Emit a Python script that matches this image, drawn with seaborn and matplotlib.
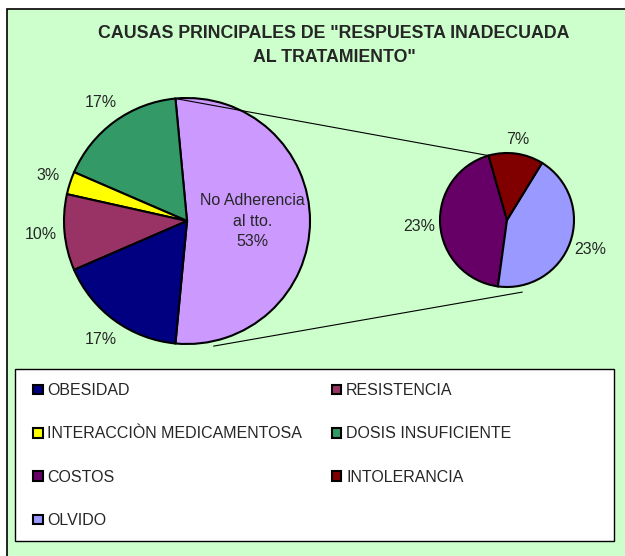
import numpy as np
import seaborn as sns
import matplotlib.pyplot as plt
from matplotlib.patches import Rectangle, ConnectionPatch

# data (shares of the whole, %)
main_labels = ["No Adherencia", "DOSIS INSUFICIENTE", "INTERACCIÒN MEDICAMENTOSA",
               "RESISTENCIA", "OBESIDAD"]
main_values = [53, 17, 3, 10, 17]
main_colors = ["#CC99FF", "#339966", "#FFFF00", "#993366", "#000080"]

# breakdown of "No Adherencia"
sub_labels = ["COSTOS", "OLVIDO", "INTOLERANCIA"]
sub_values = [23, 23, 7]
sub_colors = ["#660066", "#9999FF", "#800000"]

legend_order = ["OBESIDAD", "INTERACCIÒN MEDICAMENTOSA", "COSTOS", "OLVIDO",
                "RESISTENCIA", "DOSIS INSUFICIENTE", "INTOLERANCIA"]

title = 'CAUSAS PRINCIPALES DE "RESPUESTA INADECUADA\nAL TRATAMIENTO"'

sns.set_theme(style="white")
plt.rcParams['font.family'] = ['Liberation Sans', 'DejaVu Sans']

W, H = 625, 556
fig = plt.figure(figsize=(6.25, 5.56), dpi=100)
fig.patch.set_facecolor('white')

# green chart area, border only on left/top
fig.patches.append(Rectangle((7 / W, -0.05), 1.1, 1 - 9 / H + 0.05,
                             transform=fig.transFigure, facecolor='#CCFFCC',
                             edgecolor='black', lw=1.2, zorder=-5))
# legend box
fig.patches.append(Rectangle((15 / W, 1 - 541 / H), 599 / W, 172 / H,
                             transform=fig.transFigure, facecolor='white',
                             edgecolor='black', lw=1.0, zorder=-4))

fig.text(334 / W, 1 - 45.5 / H, title, ha='center', va='center',
         fontsize=12.8, fontweight='bold', linespacing=1.6)


def pie_axes(cx, cy, r):
    return fig.add_axes([(cx - r) / W, 1 - (cy + r) / H, 2 * r / W, 2 * r / H])


ax1 = pie_axes(187, 221, 123)
ax2 = pie_axes(507, 220, 67)

start_main = -main_values[0] / sum(main_values) * 360 / 2
w1, _ = ax1.pie(main_values, colors=main_colors, startangle=start_main,
                counterclock=True,
                wedgeprops=dict(edgecolor='black', linewidth=1.5))
w2, _ = ax2.pie(sub_values, colors=sub_colors, startangle=106,
                counterclock=True,
                wedgeprops=dict(edgecolor='black', linewidth=1.5))

for ax in (ax1, ax2):
    ax.set_xlim(-1, 1)
    ax.set_ylim(-1, 1)
    ax.set_aspect('equal')
    ax.axis('off')


def pct(v, tot):
    return f"{round(100 * v / tot):.0f}%"


total = sum(main_values)
for w, lab, v in zip(w1, main_labels, main_values):
    mid = np.deg2rad((w.theta1 + w.theta2) / 2)
    if lab == "No Adherencia":
        r, txt = 0.53, "No Adherencia\nal tto.\n" + pct(v, total)
    else:
        r, txt = 1.19, pct(v, total)
    ax1.text(r * np.cos(mid), r * np.sin(mid), txt, ha='center', va='center',
             fontsize=11.5, linespacing=1.45, clip_on=False)

for w, lab, v in zip(w2, sub_labels, sub_values):
    mid = np.deg2rad((w.theta1 + w.theta2) / 2)
    r = 1.22 if v < 10 else 1.32
    ax2.text(r * np.cos(mid), r * np.sin(mid), pct(v, total), ha='center',
             va='center', fontsize=11.5, clip_on=False)

# connector lines
t_top_main = np.deg2rad(w1[0].theta2)
t_top_sub = np.deg2rad(w2[0].theta1)
t_bot = np.deg2rad(-78)
for pa, pb in [((np.cos(t_top_main), np.sin(t_top_main)),
                (np.cos(t_top_sub), np.sin(t_top_sub))),
               ((1.04 * np.cos(t_bot), 1.04 * np.sin(t_bot)),
                (1.1 * np.cos(t_bot), 1.1 * np.sin(t_bot)))]:
    con = ConnectionPatch(xyA=pa, coordsA=ax1.transData, xyB=pb,
                          coordsB=ax2.transData, color='black', lw=0.8)
    fig.add_artist(con)

# legend
handles = {lab: w for lab, w in zip(main_labels, w1)}
handles.update({lab: w for lab, w in zip(sub_labels, w2)})
fig.legend([handles[l] for l in legend_order], legend_order, ncol=2,
           loc='upper left', bbox_to_anchor=(33 / W, 1 - 383 / H),
           frameon=False, fontsize=11.5, handlelength=0.6, handleheight=0.55,
           handletextpad=0.3, labelspacing=1.78, columnspacing=1.85,
           borderpad=0, borderaxespad=0)

fig.savefig('out.png', dpi=100)
